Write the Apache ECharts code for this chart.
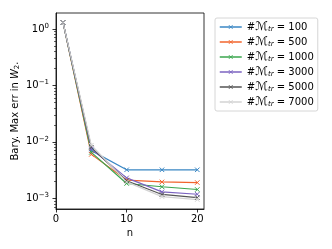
<!DOCTYPE html>
<html><head><meta charset="utf-8">
<script src="https://cdn.jsdelivr.net/npm/echarts@6/dist/echarts.min.js"></script>
<style>html,body{margin:0;padding:0;background:#fff}#c{width:332px;height:249px}</style>
</head><body><div id="c"></div>
<script>
const n = [1, 5, 10, 15, 20];
const seriesNames = ['100', '500', '1000', '3000', '5000', '7000'];
const m100  = [1.3, 7.0e-3, 3.2e-3, 3.2e-3, 3.2e-3];
const m500  = [1.3, 6.0e-3, 2.1e-3, 1.95e-3, 1.9e-3];
const m1000 = [1.3, 6.5e-3, 1.83e-3, 1.6e-3, 1.43e-3];
const m3000 = [1.3, 7.5e-3, 2.3e-3, 1.3e-3, 1.18e-3];
const m5000 = [1.3, 8.0e-3, 2.05e-3, 1.17e-3, 1.03e-3];
const m7000 = [1.3, 8.7e-3, 1.95e-3, 1.07e-3, 0.95e-3];
const xTicks = [0, 10, 20];
const yMajor = [1e-3, 1e-2, 1e-1, 1];
const yMinor = [7e-4, 8e-4, 9e-4,
  2e-3, 3e-3, 4e-3, 5e-3, 6e-3, 7e-3, 8e-3, 9e-3,
  2e-2, 3e-2, 4e-2, 5e-2, 6e-2, 7e-2, 8e-2, 9e-2,
  2e-1, 3e-1, 4e-1, 5e-1, 6e-1, 7e-1, 8e-1, 9e-1];
const colors = ['#3a87c4', '#f2642c', '#3aa64e', '#7b63c1', '#555555', '#d3d3d3'];
const allData = [m100, m500, m1000, m3000, m5000, m7000];

const FONT = 'DejaVu Sans';
const xSym = 'path://M0,0L10,10M10,0L0,10';
const chart = echarts.init(document.getElementById('c'));
const YMIN = 6.46e-4, YMAX = 1.92;
chart.setOption({
  backgroundColor: '#fff',
  animation: false,
  textStyle: {fontFamily: FONT},
  grid: {left: 56, top: 13, width: 148, height: 196, show: true, borderColor: '#000', borderWidth: 0.8, containLabel: false},
  xAxis: {
    type: 'value', min: 0, max: 20.95,
    name: 'n', nameLocation: 'middle', nameGap: 18,
    nameTextStyle: {fontSize: 10, color: '#000', fontFamily: FONT},
    axisLine: {show: true, lineStyle: {color: '#000', width: 0.8}},
    axisTick: {show: true, length: 3.5, lineStyle: {color: '#000', width: 0.8}, customValues: xTicks},
    axisLabel: {fontSize: 10, color: '#000', margin: 5, fontFamily: FONT, customValues: xTicks},
    splitLine: {show: false}
  },
  yAxis: [{
    type: 'log', logBase: 10, min: YMIN, max: YMAX,
    name: 'Bary. Max err in {w|W}{s|2}.', nameLocation: 'middle', nameGap: 35,
    nameTextStyle: {fontSize: 10, color: '#000', fontFamily: FONT,
      rich: {w: {fontStyle: 'italic', fontSize: 10, fontFamily: FONT}, s: {fontSize: 7, fontFamily: FONT, padding: [5, 0, 0, 0]}}},
    axisLine: {show: true, lineStyle: {color: '#000', width: 0.8}},
    axisTick: {show: true, length: 3.5, lineStyle: {color: '#000', width: 0.8}, customValues: yMajor},
    axisLabel: {fontSize: 10, color: '#000', margin: 7, fontFamily: FONT, customValues: yMajor,
      formatter: function (v) {
        const e = Math.round(Math.log10(v));
        return '10{s|' + (e < 0 ? '\u2212' + (-e) : e) + '}';
      },
      rich: {s: {fontSize: 7, fontFamily: FONT, padding: [0, 0, 6, 0], color: '#000'}}},
    splitLine: {show: false}
  }, {
    type: 'log', logBase: 10, min: YMIN, max: YMAX, position: 'left',
    axisLine: {show: false},
    axisTick: {show: true, length: 2, lineStyle: {color: '#000', width: 0.6}, customValues: yMinor},
    axisLabel: {show: false},
    splitLine: {show: false}
  }],
  legend: {
    orient: 'vertical', left: 215, top: 18, width: 101,
    padding: [3, 4, 3, 4],
    itemWidth: 22, itemHeight: 5, itemGap: 3,
    borderColor: '#cccccc', borderWidth: 0.8, borderRadius: 2,
    backgroundColor: '#fff',
    itemStyle: {borderWidth: 0.8},
    lineStyle: {width: 1.5},
    data: seriesNames.map(s => s),
    formatter: function (name) { return '#{m|\u2133}{s|tr} = ' + name; },
    textStyle: {fontSize: 10, color: '#000', fontFamily: FONT, lineHeight: 12,
      rich: {m: {fontStyle: 'italic', fontSize: 12, fontFamily: FONT, lineHeight: 12},
             s: {fontStyle: 'italic', fontSize: 7, fontFamily: FONT, lineHeight: 12, padding: [5, 0, 0, 0]}}}
  },
  series: allData.map((d, i) => ({
    name: seriesNames[i], type: 'line',
    data: n.map((x, j) => [x, d[j]]),
    yAxisIndex: 0,
    symbol: xSym, symbolSize: 4.5, showSymbol: true,
    lineStyle: {color: colors[i], width: 1.2},
    itemStyle: {color: colors[i], borderColor: colors[i], borderWidth: 1},
    emphasis: {disabled: true}
  }))
});
</script></body></html>
